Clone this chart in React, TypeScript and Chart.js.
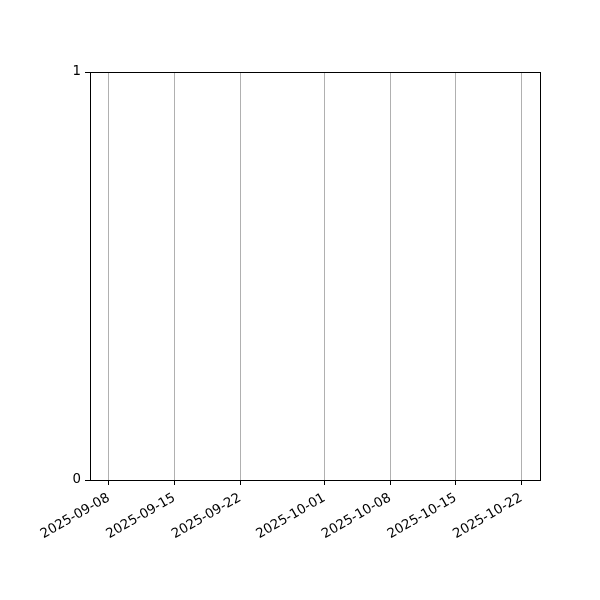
import React, { useEffect, useRef } from 'react';
import { Chart, registerables } from 'chart.js';

Chart.register(...registerables);

// x range and ticks (dates), y ticks
const xStart = '2025-09-06';
const xEnd = '2025-10-24';
const dateTicks = ['2025-09-08', '2025-09-15', '2025-09-22', '2025-10-01', '2025-10-08', '2025-10-15', '2025-10-22'];
const yTicks = [0, 1];
const seriesValues: { x: number; y: number }[] = [];

const DAY = 86400000;
const toDay = (s: string) => {
  const [y, m, d] = s.split('-').map(Number);
  return Date.UTC(y, m - 1, d) / DAY;
};
const fmtDay = (v: number) => new Date(v * DAY).toISOString().slice(0, 10);

const framePlugin = {
  id: 'frame',
  afterDraw(chart: Chart) {
    const { ctx, chartArea } = chart;
    ctx.save();
    ctx.strokeStyle = '#000';
    ctx.lineWidth = 1;
    ctx.strokeRect(
      Math.round(chartArea.left) + 0.5,
      Math.round(chartArea.top) + 0.5,
      Math.round(chartArea.right - chartArea.left),
      Math.round(chartArea.bottom - chartArea.top)
    );
    ctx.restore();
  },
};

const App: React.FC = () => {
  const chartRef = useRef<HTMLCanvasElement>(null);
  const chartInstance = useRef<Chart>();

  useEffect(() => {
    document.body.style.margin = '0';
    if (chartRef && chartRef.current) {
      const ctx = chartRef.current.getContext('2d');
      if (ctx) {
        if (chartInstance.current) {
          chartInstance.current.destroy();
        }
        chartInstance.current = new Chart(ctx, {
          type: 'scatter',
          data: {
            datasets: [{ label: 'series', data: seriesValues }],
          },
          options: {
            animation: false,
            responsive: false,
            layout: { padding: { left: 50, top: 72, right: 60, bottom: 0 } },
            plugins: { legend: { display: false }, tooltip: { enabled: false } },
            scales: {
              x: {
                type: 'linear',
                min: toDay(xStart),
                max: toDay(xEnd),
                afterBuildTicks: (scale: any) => {
                  scale.ticks = dateTicks.map((d) => ({ value: toDay(d) }));
                },
                afterFit: (scale: any) => {
                  scale.height = 120;
                },
                grid: {
                  color: '#b0b0b0',
                  tickColor: '#000',
                  tickLength: 5,
                  lineWidth: 1,
                },
                border: { color: '#000' },
                ticks: {
                  color: '#000',
                  font: { family: 'DejaVu Sans', size: 13.3 },
                  minRotation: 30,
                  maxRotation: 30,
                  padding: 5,
                  autoSkip: false,
                  callback: (v: any) => fmtDay(Number(v)),
                },
              },
              y: {
                type: 'linear',
                min: yTicks[0],
                max: yTicks[yTicks.length - 1],
                afterBuildTicks: (scale: any) => {
                  scale.ticks = yTicks.map((v) => ({ value: v }));
                },
                afterFit: (scale: any) => {
                  scale.width = 40;
                },
                grid: {
                  drawOnChartArea: false,
                  tickColor: '#000',
                  tickLength: 5,
                },
                border: { color: '#000' },
                ticks: {
                  color: '#000',
                  font: { family: 'DejaVu Sans', size: 13.3 },
                  padding: 4,
                },
              },
            },
          },
          plugins: [framePlugin],
        });
      }
    }
    return () => {
      if (chartInstance.current) {
        chartInstance.current.destroy();
      }
    };
  }, []);

  return (
    <div style={{ width: 600, height: 600 }}>
      <canvas ref={chartRef} width={600} height={600} />
    </div>
  );
};

export default App;
